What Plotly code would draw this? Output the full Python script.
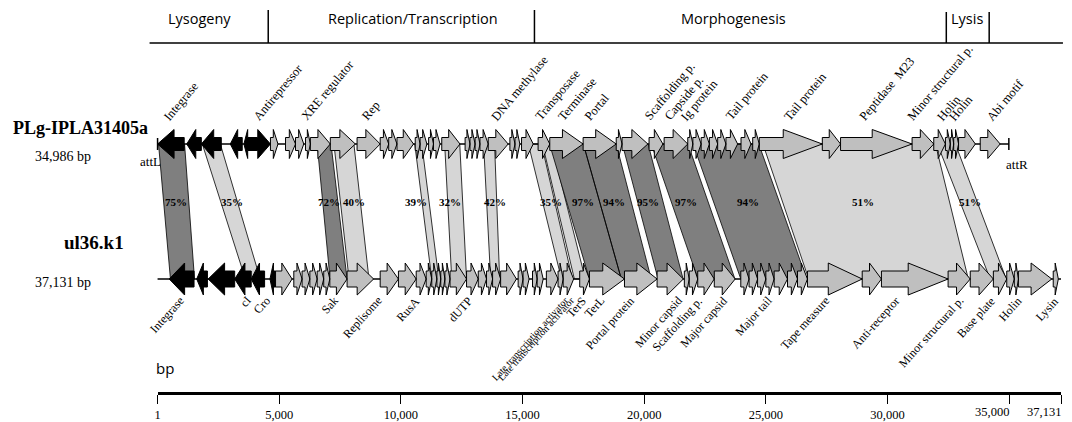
import plotly.graph_objects as go

W, H = 1072, 422
AX_L, AX_R = 155, 1061          # pixel extent of the bp scale (1 .. 37,131)
BP_MAX = 37131
SERIF = "Liberation Serif"
SANS = "Open Sans"

# ---------------- Genome 1 : PLg-IPLA31405a (34,986 bp) ----------------
g1_len = 34986
g1_start = [1, 1200, 1800, 2990, 3550, 3800, 4640, 5260, 5670, 6080, 6280, 7100, 8200, 9150,
            9500, 9840, 10590, 10790, 11140, 11340, 11680, 12640, 12840, 13050, 13250, 13590,
            14480, 14690, 14960, 15640, 16120, 17490, 18850, 19090, 20200, 20820, 21790, 22000,
            22340, 22680, 23020, 23360, 23980, 24460, 24730, 27320, 28070, 31010, 31900, 32380,
            32580, 32720, 32920, 33810]
g1_end = [1095, 1800, 2620, 3480, 3800, 4640, 4950, 5670, 6010, 6280, 7100, 8130, 9150, 9500,
          9840, 10520, 10790, 11070, 11340, 11610, 12430, 12840, 13050, 13250, 13590, 14410,
          14690, 14890, 15440, 16120, 17490, 18850, 19090, 20150, 20770, 21790, 22000, 22340,
          22680, 23020, 23360, 23840, 24390, 24730, 27320, 28070, 31010, 31900, 32380, 32580,
          32720, 32920, 33610, 34630]
g1_strand = [-1] * 5 + [1] * 49
g1_lysogeny = [True] * 6 + [False] * 48

g1_labels = ["Integrase", "Antirepressor", "XRE regulator", "Rep", "DNA methylase", "Transposase",
             "Terminase", "Portal", "Scaffolding p.", "Capside p.", "Ig protein", "Tail protein",
             "Tail protein", "Peptidase  M23", "Minor structural p.", "Holin", "Holin", "Abi motif"]
g1_label_bp = [410, 4098, 6065, 8524, 13851, 15654, 16597, 17703, 20162, 20982, 21637, 23482,
               25899, 28973, 30940, 32169, 32661, 34218]

# ---------------- Genome 2 : ul36.k1 (37,131 bp) ----------------
g2_len = 37131
g2_start = [480, 1610, 2080, 3170, 3850, 4620, 4850, 5600, 5940, 6260, 6560, 6830, 7080, 7790,
            9150, 9900, 10630, 11040, 11270, 11480, 11640, 11810, 12020, 12700, 13180, 13520,
            13770, 14100, 14820, 15020, 15410, 15600, 15980, 16460, 16670, 17350, 17750, 19190,
            20530, 21650, 21850, 22200, 22880, 23970, 24310, 24660, 25000, 25340, 25890, 26300,
            26710, 28960, 29750, 32490, 33400, 34350, 34900, 35210, 35380, 36810]
g2_end = [1500, 2050, 3170, 3850, 4400, 4850, 5530, 5940, 6260, 6560, 6830, 7080, 7790, 8880,
          9900, 10630, 11040, 11270, 11480, 11640, 11810, 12020, 12700, 13180, 13520, 13770,
          14100, 14750, 15020, 15270, 15600, 15850, 16460, 16670, 17100, 17750, 19190, 20530,
          21610, 21850, 22200, 22880, 23740, 24310, 24660, 25000, 25340, 25890, 26300, 26710,
          28960, 29750, 32490, 33400, 34350, 34900, 35210, 35380, 36750, 37020]
g2_strand = [-1] * 6 + [1] * 54
g2_lysogeny = [True] * 6 + [False] * 54

g2_labels = ["Integrase", "cI", "Cro", "Sak", "Replisome", "RusA", "dUTP",
             "Late transcription activator", "Late transcription activator", "TerS", "TerL",
             "Portal protein", "Minor capsid", "Scaffolding p.", "Major capsid", "Major tail",
             "Tape measure", "Anti-receptor", "Minor structural p.", "Base plate", "Holin", "Lysin"]
g2_label_bp = [1147, 3893, 4713, 7499, 9302, 10860, 13032, 16925, 17171, 17703, 18441, 19670,
               21637, 22457, 23482, 25326, 27683, 30551, 33194, 34505, 35570, 37087]
g2_label_small = ["Late transcription activator"]   # printed condensed in the original

# ---------------- Homology links (genome1 -> genome2) ----------------
link_t0 = [40, 1840, 6560, 7250, 10570, 11800, 13400, 15240, 15820, 16110, 17500, 19100, 20290,
           22010, 24880, 32050]
link_t1 = [1110, 2580, 7130, 8070, 10860, 12420, 13850, 15780, 16190, 17500, 18850, 20160, 21800,
           24710, 31970, 32790]
link_b0 = [530, 3610, 7090, 7870, 11270, 12090, 13690, 16600, 17130, 17750, 19060, 20570, 22210,
           23970, 26760, 34220]
link_b1 = [1520, 4220, 7790, 8690, 11560, 12700, 14060, 17050, 17580, 19060, 20290, 21600, 23730,
           26680, 33320, 34880]
link_high = [True, False, True, False, False, False, False, False, False, True, True, True, True,
             True, False, False]
pct_text = ["75%", "35%", "72%", "40%", "39%", "32%", "42%", "35%", "97%", "94%", "95%", "97%",
            "94%", "51%", "51%"]
pct_bp = [740, 3070, 7050, 8070, 10610, 12010, 13850, 16190, 17500, 18770, 20160, 21720, 24260,
          29010, 33400]

# ---------------- Functional modules ----------------
module_names = ["Lysogeny", "Replication/Transcription", "Morphogenesis", "Lysis"]
module_center_bp = [1721, 10491, 23686, 33277]
module_bounds_bp = [4549, 15490, 32416, 34178]
module_span_bp = [-328, 37210]

# ---------------- bp scale ----------------
tick_vals = [1, 5000, 10000, 15000, 20000, 25000, 30000, 35000, 37131]
tick_text = ["1", "5,000", "10,000", "15,000", "20,000", "25,000", "30,000", "35,000", "37,131"]
n_right_aligned = 2               # last two tick labels sit left of their ticks

# ---------------- geometry / style ----------------
Y1, Y2 = 144, 279                 # row centre lines (px units on reversed y axis)
HH1, BH1 = 14.5, 6.5              # head / body half heights, row 1
HH2, BH2 = 16, 8                  # row 2
HEAD_MAX = 1640                   # max head length in bp
C_BLACK, C_GREY = "#000000", "#bfbfbf"
C_DARK, C_LIGHT = "#7f7f7f", "#d6d6d6"

scale = (AX_R - AX_L) / (BP_MAX - 1)
x_lo = 1 - AX_L / scale
x_hi = 1 + (W - AX_L) / scale


def arrow(s, e, strand, cy, hh, bh):
    L = e - s
    h = min(0.62 * L, HEAD_MAX)
    if strand > 0:
        xs = [s, e - h, e - h, e, e - h, e - h, s, s]
    else:
        xs = [e, s + h, s + h, s, s + h, s + h, e, e]
    ys = [cy - bh, cy - bh, cy - hh, cy, cy + hh, cy + bh, cy + bh, cy - bh]
    return xs, ys


def poly_trace(xs, ys, fill, lw=1.0):
    return go.Scatter(x=xs, y=ys, mode="lines", fill="toself", fillcolor=fill,
                      line=dict(color="black", width=lw), hoverinfo="skip", showlegend=False)


fig = go.Figure()

# links
for flag, col in [(False, C_LIGHT), (True, C_DARK)]:
    xs, ys = [], []
    for t0, t1, b0, b1, hi in zip(link_t0, link_t1, link_b0, link_b1, link_high):
        if hi != flag:
            continue
        xs += [t0, t1, b1, b0, t0, None]
        ys += [Y1, Y1, Y2, Y2, Y1, None]
    fig.add_trace(poly_trace(xs, ys, col, 0.8))

# backbones (with end ticks on genome 1)
fig.add_trace(go.Scatter(x=[1, g1_len, None, 1, 1, None, g1_len, g1_len],
                         y=[Y1, Y1, None, Y1 - 6, Y1 + 6, None, Y1 - 6, Y1 + 6],
                         mode="lines", line=dict(color="black", width=1.5),
                         hoverinfo="skip", showlegend=False))
fig.add_trace(go.Scatter(x=[1, g2_len], y=[Y2, Y2], mode="lines", line=dict(color="black", width=1.5),
                         hoverinfo="skip", showlegend=False))

# genes
for starts, ends, strands, lyso, cy, hh, bh in [
        (g1_start, g1_end, g1_strand, g1_lysogeny, Y1, HH1, BH1),
        (g2_start, g2_end, g2_strand, g2_lysogeny, Y2, HH2, BH2)]:
    for flag, col in [(True, C_BLACK), (False, C_GREY)]:
        xs, ys = [], []
        for s, e, st, ly in zip(starts, ends, strands, lyso):
            if ly != flag:
                continue
            ax, ay = arrow(s, e, st, cy, hh, bh)
            xs += ax + [None]
            ys += ay + [None]
        fig.add_trace(poly_trace(xs, ys, col, 1.0))

# invisible trace carrying the bp scale axis
fig.add_trace(go.Scatter(x=[1, BP_MAX], y=[0, 0], xaxis="x2", yaxis="y2", mode="markers",
                         marker=dict(opacity=0), hoverinfo="skip", showlegend=False))

ann = []
# gene labels, genome 1
for t, x in zip(g1_labels, g1_label_bp):
    ann.append(dict(x=x, y=126, text=t, textangle=-50, xanchor="left", yanchor="bottom",
                    xshift=-9, showarrow=False, font=dict(family=SERIF, size=12.5, color="black")))
# gene labels, genome 2
for t, x in zip(g2_labels, g2_label_bp):
    sz = 10 if t in g2_label_small else 12
    ann.append(dict(x=x, y=291, text=t, textangle=-48, xanchor="right", yanchor="top",
                    xshift=4, showarrow=False, font=dict(family=SERIF, size=sz, color="black")))
# identity percentages
for t, x in zip(pct_text, pct_bp):
    ann.append(dict(x=x, y=202, text="<b>" + t + "</b>", showarrow=False, xanchor="center",
                    font=dict(family=SERIF, size=11, color="black")))
# modules
for t, x in zip(module_names, module_center_bp):
    ann.append(dict(x=x, y=18, text=t, showarrow=False, xanchor="center",
                    font=dict(family=SANS, size=14.5, color="black")))

# genome names
ann += [
    dict(xref="paper", x=8 / W, y=128, text="<b>PLg-IPLA31405a</b>", xanchor="left", showarrow=False,
         font=dict(family=SERIF, size=18, color="black")),
    dict(xref="paper", x=30 / W, y=156, text="34,986 bp", xanchor="left", showarrow=False,
         font=dict(family=SERIF, size=14, color="black")),
    dict(xref="paper", x=59 / W, y=242, text="<b>ul36.k1</b>", xanchor="left", showarrow=False,
         font=dict(family=SERIF, size=19, color="black")),
    dict(xref="paper", x=30 / W, y=282, text="37,131 bp", xanchor="left", showarrow=False,
         font=dict(family=SERIF, size=14, color="black")),
    dict(xref="paper", x=148 / W, y=161, text="attL", xanchor="center", showarrow=False,
         font=dict(family=SERIF, size=13, color="black")),
    dict(xref="paper", x=1017 / W, y=164, text="attR", xanchor="center", showarrow=False,
         font=dict(family=SERIF, size=13, color="black")),
    dict(xref="paper", x=162 / W, y=368, text="bp", xanchor="center", showarrow=False,
         font=dict(family=SANS, size=15, color="black")),
]
# right-aligned tick labels at the crowded end of the scale
for v, t in zip(tick_vals[-n_right_aligned:], tick_text[-n_right_aligned:]):
    ann.append(dict(x=v, y=412, text=t, xanchor="right", xshift=2, showarrow=False,
                    font=dict(family=SERIF, size=12.5, color="black")))

shapes = [dict(type="line", x0=module_span_bp[0], x1=module_span_bp[1], y0=43, y1=43,
               line=dict(color="black", width=1.5))]
for b, top in zip(module_bounds_bp, [10, 10, 12, 12]):
    shapes.append(dict(type="line", x0=b, x1=b, y0=top, y1=43, line=dict(color="black", width=1.5)))

ax_pos = 1 - 392 / H
axis_text = tick_text[:-n_right_aligned] + [""] * n_right_aligned
fig.update_layout(
    width=W, height=H,
    margin=dict(l=0, r=0, t=0, b=0),
    paper_bgcolor="white", plot_bgcolor="white",
    showlegend=False,
    xaxis=dict(domain=[0, 1], range=[x_lo, x_hi], visible=False, fixedrange=True),
    yaxis=dict(domain=[0, 1], range=[H, 0], visible=False, fixedrange=True),
    xaxis2=dict(domain=[AX_L / W, AX_R / W], range=[1, BP_MAX], anchor="y2",
                showline=True, linewidth=3, linecolor="black", showgrid=False, zeroline=False,
                ticks="outside", ticklen=9, tickwidth=1, tickcolor="black",
                tickvals=tick_vals, ticktext=axis_text,
                tickfont=dict(family=SERIF, size=12.5, color="black"), fixedrange=True),
    yaxis2=dict(domain=[ax_pos, ax_pos + 0.01], visible=False, range=[0, 1], fixedrange=True),
    annotations=ann,
    shapes=shapes,
)

fig.write_html("out.html", config={"displayModeBar": False, "staticPlot": True},
               post_script="document.body.style.margin='0px';document.body.style.overflow='hidden';")
